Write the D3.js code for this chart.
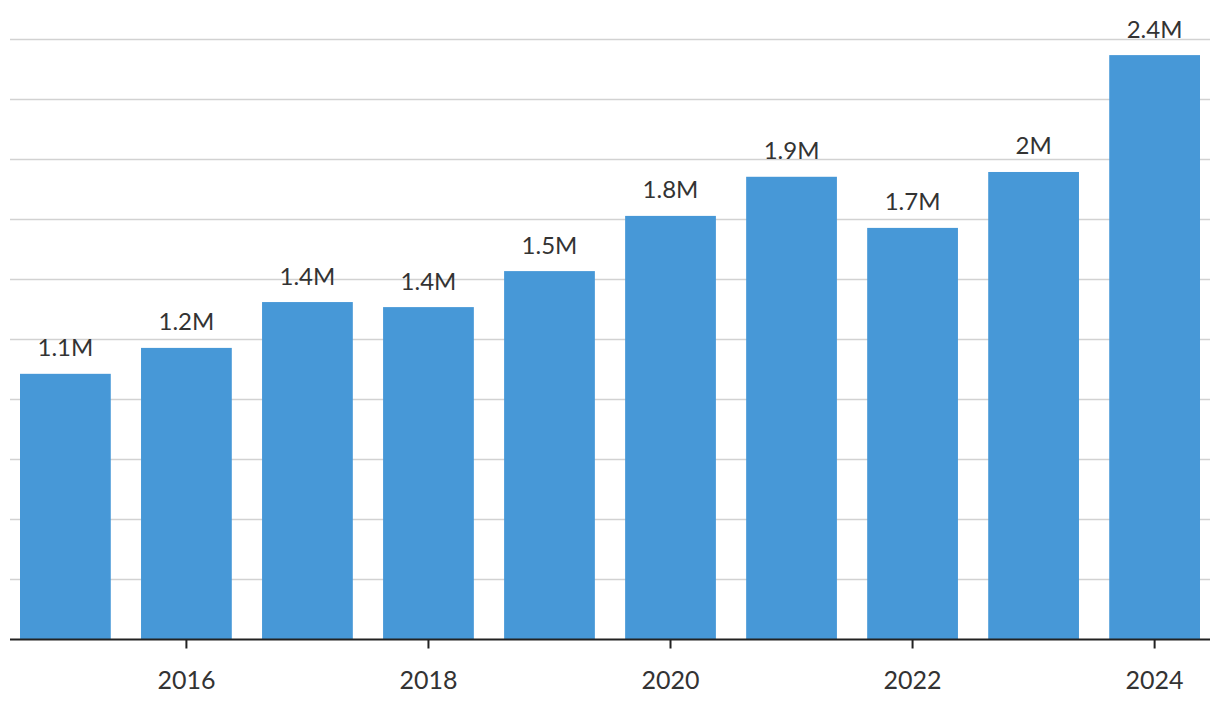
<!DOCTYPE html>
<html>
<head>
<meta charset="utf-8">
<script src="https://cdn.jsdelivr.net/npm/d3@7"></script>
<style>
  html, body { margin: 0; padding: 0; background: #fff; }
  svg { display: block; }
  text { font-family: Lato, "Open Sans", sans-serif; }
</style>
</head>
<body>
<svg id="chart" width="1220" height="716"></svg>
<script>
const years = [2015, 2016, 2017, 2018, 2019, 2020, 2021, 2022, 2023, 2024];
const values = [1.107, 1.215, 1.406, 1.385, 1.535, 1.765, 1.928, 1.715, 1.948, 2.435];
const valueLabels = ["1.1M", "1.2M", "1.4M", "1.4M", "1.5M", "1.8M", "1.9M", "1.7M", "2M", "2.4M"];
const tickYears = [2016, 2018, 2020, 2022, 2024];
const gridValues = [0.25, 0.5, 0.75, 1, 1.25, 1.5, 1.75, 2, 2.25, 2.5];

const svg = d3.select("#chart");

const x = d3.scaleBand().domain(years).range([20, 1200]).paddingInner(0.25).paddingOuter(0);
const y = d3.scaleLinear().domain([0, 2.5]).range([639.5, 39.5]);

// gridlines
svg.append("g").selectAll("line").data(gridValues).join("line")
  .attr("x1", 10).attr("x2", 1210)
  .attr("y1", d => y(d)).attr("y2", d => y(d))
  .attr("stroke", "#d2d2d2").attr("stroke-width", 1.5);

// bars
svg.append("g").selectAll("rect").data(years).join("rect")
  .attr("x", d => x(d))
  .attr("width", x.bandwidth())
  .attr("y", (d, i) => y(values[i]))
  .attr("height", (d, i) => y(0) - y(values[i]))
  .attr("fill", "#4798d7");

// value labels
svg.append("g").selectAll("text").data(years).join("text")
  .attr("x", d => x(d) + x.bandwidth() / 2)
  .attr("y", (d, i) => y(values[i]) - 17.5)
  .attr("text-anchor", "middle")
  .attr("font-size", 24)
  .attr("fill", "#333")
  .text((d, i) => valueLabels[i]);

// x axis
const xAxis = d3.axisBottom(x).tickValues(tickYears).tickSize(9).tickSizeOuter(0).tickPadding(23);
const gx = svg.append("g").attr("transform", `translate(0,${y(0)})`).call(xAxis);
gx.select(".domain").remove();
gx.selectAll(".tick line").attr("stroke", "#222").attr("stroke-width", 2);
gx.selectAll(".tick text").attr("font-size", 25).attr("fill", "#333")
  .attr("font-family", "Lato, 'Open Sans', sans-serif");
svg.append("line")
  .attr("x1", 10).attr("x2", 1210)
  .attr("y1", y(0)).attr("y2", y(0))
  .attr("stroke", "#222").attr("stroke-width", 2);
</script>
</body>
</html>
